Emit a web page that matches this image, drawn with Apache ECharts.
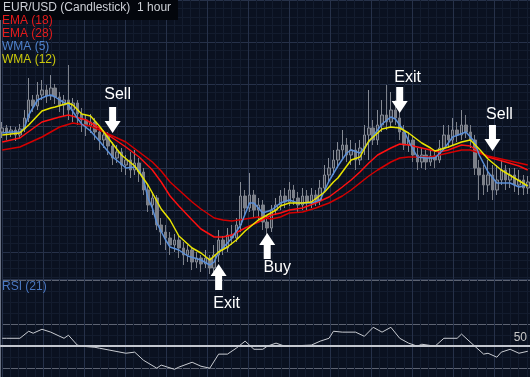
<!DOCTYPE html>
<html><head><meta charset="utf-8">
<script src="https://cdn.jsdelivr.net/npm/echarts@6/dist/echarts.min.js"></script>
<style>html,body{margin:0;padding:0;background:#0a1120;}#c{width:530px;height:377px;}</style>
</head><body><div id="c"></div>
<script>
// ---- data (EUR/USD hourly; [open, close, low, high]) ----
const bars = [
[1.4168,1.4172,1.4162,1.4178],[1.4172,1.4167,1.4160,1.4175],[1.4167,1.4170,1.4163,1.4174],[1.4170,1.4165,1.4159,1.4173],
[1.4165,1.4171,1.4162,1.4176],[1.4171,1.4182,1.4168,1.4190],[1.4182,1.4200,1.4178,1.4222],[1.4200,1.4194,1.4188,1.4205],
[1.4194,1.4205,1.4190,1.4218],[1.4205,1.4210,1.4200,1.4220],[1.4210,1.4204,1.4197,1.4215],[1.4204,1.4212,1.4200,1.4225],
[1.4212,1.4203,1.4196,1.4216],[1.4203,1.4195,1.4188,1.4208],[1.4195,1.4200,1.4184,1.4205],[1.4200,1.4190,1.4180,1.4235],
[1.4190,1.4197,1.4178,1.4202],[1.4197,1.4186,1.4175,1.4200],[1.4186,1.4180,1.4168,1.4192],[1.4180,1.4174,1.4164,1.4185],
[1.4174,1.4178,1.4167,1.4186],[1.4178,1.4168,1.4160,1.4182],[1.4168,1.4160,1.4150,1.4172],[1.4160,1.4165,1.4152,1.4170],
[1.4165,1.4154,1.4145,1.4168],[1.4154,1.4142,1.4135,1.4158],[1.4142,1.4148,1.4137,1.4155],[1.4148,1.4135,1.4128,1.4152],
[1.4135,1.4140,1.4125,1.4145],[1.4140,1.4130,1.4122,1.4148],[1.4130,1.4137,1.4125,1.4150],[1.4137,1.4128,1.4118,1.4142],
[1.4128,1.4110,1.4105,1.4132],[1.4110,1.4095,1.4088,1.4115],[1.4095,1.4102,1.4085,1.4108],[1.4102,1.4075,1.4070,1.4105],
[1.4075,1.4068,1.4055,1.4082],[1.4068,1.4062,1.4050,1.4075],[1.4062,1.4055,1.4045,1.4068],[1.4055,1.4060,1.4048,1.4066],
[1.4060,1.4052,1.4042,1.4065],[1.4052,1.4045,1.4035,1.4058],[1.4045,1.4050,1.4038,1.4055],[1.4050,1.4038,1.4030,1.4052],
[1.4038,1.4042,1.4032,1.4048],[1.4042,1.4036,1.4028,1.4045],[1.4036,1.4042,1.4032,1.4050],[1.4042,1.4032,1.4026,1.4045],
[1.4032,1.4045,1.4028,1.4055],[1.4045,1.4060,1.4038,1.4070],[1.4060,1.4052,1.4045,1.4064],[1.4052,1.4065,1.4048,1.4072],
[1.4065,1.4062,1.4055,1.4075],[1.4062,1.4075,1.4058,1.4082],[1.4075,1.4104,1.4068,1.4118],[1.4104,1.4092,1.4085,1.4110],
[1.4092,1.4105,1.4088,1.4127],[1.4105,1.4090,1.4082,1.4110],[1.4090,1.4095,1.4080,1.4102],[1.4095,1.4078,1.4070,1.4100],
[1.4078,1.4072,1.4064,1.4085],[1.4072,1.4090,1.4068,1.4095],[1.4090,1.4095,1.4085,1.4102],[1.4095,1.4104,1.4090,1.4110],
[1.4104,1.4098,1.4092,1.4112],[1.4098,1.4110,1.4094,1.4118],[1.4110,1.4102,1.4095,1.4115],[1.4102,1.4095,1.4088,1.4108],
[1.4095,1.4104,1.4090,1.4112],[1.4104,1.4098,1.4090,1.4110],[1.4098,1.4105,1.4092,1.4112],[1.4105,1.4100,1.4094,1.4110],
[1.4100,1.4112,1.4095,1.4120],[1.4112,1.4125,1.4108,1.4135],[1.4125,1.4132,1.4118,1.4142],[1.4132,1.4140,1.4125,1.4150],
[1.4140,1.4150,1.4132,1.4158],[1.4150,1.4155,1.4140,1.4170],[1.4155,1.4145,1.4138,1.4162],[1.4145,1.4150,1.4135,1.4160],
[1.4150,1.4140,1.4130,1.4157],[1.4140,1.4152,1.4135,1.4160],[1.4152,1.4165,1.4145,1.4175],[1.4165,1.4172,1.4140,1.4210],
[1.4172,1.4160,1.4155,1.4180],[1.4160,1.4175,1.4155,1.4190],[1.4175,1.4185,1.4168,1.4200],[1.4185,1.4178,1.4170,1.4215],
[1.4178,1.4190,1.4172,1.4208],[1.4190,1.4182,1.4175,1.4200],[1.4182,1.4168,1.4160,1.4188],[1.4168,1.4155,1.4150,1.4175],
[1.4155,1.4160,1.4148,1.4168],[1.4160,1.4145,1.4138,1.4165],[1.4145,1.4138,1.4130,1.4152],[1.4138,1.4145,1.4132,1.4152],
[1.4145,1.4138,1.4130,1.4150],[1.4138,1.4144,1.4134,1.4150],[1.4144,1.4140,1.4132,1.4150],[1.4140,1.4152,1.4137,1.4160],
[1.4152,1.4165,1.4150,1.4175],[1.4165,1.4160,1.4152,1.4175],[1.4160,1.4170,1.4155,1.4182],[1.4170,1.4165,1.4158,1.4178],
[1.4165,1.4175,1.4160,1.4190],[1.4175,1.4168,1.4162,1.4185],[1.4168,1.4160,1.4152,1.4175],[1.4160,1.4132,1.4125,1.4165],
[1.4132,1.4125,1.4100,1.4140],[1.4125,1.4115,1.4105,1.4135],[1.4115,1.4125,1.4108,1.4140],[1.4125,1.4110,1.4100,1.4135],
[1.4110,1.4120,1.4105,1.4135],[1.4120,1.4130,1.4115,1.4140],[1.4130,1.4120,1.4110,1.4135],[1.4120,1.4125,1.4112,1.4132],
[1.4125,1.4115,1.4108,1.4132],[1.4115,1.4120,1.4105,1.4130],[1.4120,1.4112,1.4105,1.4125],[1.4112,1.4118,1.4106,1.4124]
];
const hours = bars.map((b, i) => 'H' + i);

// moving averages: [bar index, value]
const ema18 = [[0,1.4158],[4,1.4162],[9,1.4178],[13,1.4183],[15,1.4185],[19,1.4180],[22,1.4172],[24,1.4165],[28,1.4153],[31,1.4143],[34,1.4130],[36,1.4118],[38,1.4104],[40,1.4094],[43,1.4080],[45,1.4071],[48,1.4063],[50,1.4063],[52,1.4065],[55,1.4072],[58,1.4078],[61,1.4085],[63,1.4087],[65,1.4090],[68,1.4092],[71,1.4097],[74,1.4103],[77,1.4113],[79,1.4120],[81,1.4128],[83,1.4137],[85,1.4145],[88,1.4152],[90,1.4156],[92,1.4155],[95,1.4152],[97,1.4150],[99,1.4148],[101,1.4150],[104,1.4155],[106,1.4154],[108,1.4148],[110,1.4143],[114,1.4138],[117,1.4134],[119,1.4130]];
const ema28 = [[0,1.4150],[4,1.4153],[9,1.4163],[13,1.4173],[16,1.4177],[20,1.4174],[24,1.4166],[28,1.4158],[31,1.4148],[34,1.4138],[36,1.4129],[38,1.4118],[40,1.4110],[43,1.4098],[45,1.4091],[48,1.4082],[50,1.4080],[52,1.4079],[55,1.4081],[58,1.4083],[61,1.4081],[63,1.4083],[65,1.4087],[68,1.4088],[71,1.4092],[74,1.4097],[77,1.4104],[79,1.4110],[81,1.4117],[83,1.4124],[85,1.4130],[88,1.4138],[90,1.4142],[92,1.4143],[95,1.4143],[97,1.4143],[99,1.4145],[101,1.4147],[104,1.4150],[106,1.4150],[108,1.4147],[110,1.4144],[114,1.4140],[117,1.4137],[119,1.4135]];
const wma5 = [[0,1.4167],[2,1.4168],[4,1.4168],[5,1.4172],[6,1.4185],[8,1.4200],[10,1.4204],[11,1.4205],[12,1.4203],[13,1.4200],[15,1.4195],[17,1.4182],[18,1.4176],[20,1.4169],[22,1.4159],[25,1.4143],[27,1.4136],[28,1.4132],[30,1.4133],[31,1.4130],[32,1.4120],[33,1.4102],[34,1.4092],[35,1.4077],[37,1.4060],[38,1.4053],[40,1.4050],[42,1.4044],[45,1.4040],[47,1.4035],[48,1.4038],[49,1.4048],[51,1.4057],[52,1.4062],[54,1.4075],[56,1.4097],[57,1.4097],[59,1.4087],[61,1.4090],[63,1.4097],[65,1.4100],[67,1.4097],[70,1.4097],[72,1.4100],[74,1.4119],[76,1.4134],[78,1.4147],[79,1.4150],[81,1.4147],[83,1.4158],[85,1.4170],[86,1.4176],[88,1.4183],[89,1.4181],[91,1.4169],[92,1.4159],[94,1.4143],[96,1.4142],[98,1.4142],[100,1.4151],[102,1.4163],[105,1.4168],[107,1.4158],[108,1.4145],[110,1.4128],[112,1.4117],[115,1.4117],[117,1.4113],[119,1.4115]];
const wma12 = [[0,1.4165],[4,1.4167],[6,1.4175],[9,1.4189],[11,1.4192],[12,1.4193],[15,1.4197],[16,1.4195],[18,1.4186],[20,1.4184],[22,1.4174],[24,1.4162],[27,1.4145],[30,1.4134],[33,1.4115],[36,1.4091],[38,1.4080],[40,1.4064],[43,1.4052],[45,1.4047],[47,1.4040],[49,1.4048],[51,1.4053],[53,1.4060],[55,1.4069],[58,1.4080],[60,1.4085],[62,1.4090],[63,1.4094],[65,1.4097],[68,1.4097],[70,1.4098],[73,1.4108],[75,1.4118],[76,1.4122],[79,1.4140],[81,1.4143],[83,1.4159],[86,1.4171],[88,1.4173],[90,1.4172],[92,1.4167],[95,1.4157],[97,1.4152],[98,1.4149],[101,1.4153],[104,1.4158],[106,1.4160],[108,1.4151],[110,1.4141],[113,1.4130],[116,1.4122],[119,1.4114]];
const rsi21 = [[0,53.6],[1,53.6],[4,53.6],[6,56.8],[7,55.9],[9,57.7],[11,56.4],[14,53.6],[15,55.0],[17,50.5],[18,50.0],[21,49.5],[22,49.1],[28,46.8],[30,47.3],[32,43.6],[35,40.0],[36,41.4],[39,39.5],[40,40.5],[43,42.7],[45,40.9],[47,40.0],[49,46.4],[51,46.4],[53,49.1],[55,52.3],[57,48.6],[59,48.6],[60,50.0],[62,51.4],[64,50.0],[70,50.5],[72,52.3],[74,53.6],[75,56.8],[77,56.4],[80,56.4],[82,54.5],[84,58.6],[86,56.4],[88,58.6],[90,53.6],[92,51.4],[94,50.0],[95,50.9],[98,50.0],[100,53.6],[103,53.6],[104,55.5],[107,50.0],[109,46.4],[110,46.8],[112,45.0],[113,47.3],[115,48.6],[117,46.8],[119,47.7]];

// trade signals: text, bar index, price at arrow centre, direction
const signalText  = ['Sell', 'Exit', 'Buy', 'Exit', 'Sell'];
const signalIndex = [25, 49, 60, 90, 111];
const signalPrice = [1.4180, 1.4023, 1.4054, 1.4200, 1.4162];
const signalDir   = ['down', 'up', 'up', 'down', 'down'];

const legendNames = ['EMA (18)', 'EMA (28)', 'WMA (5)', 'WMA (12)'];
const rsiLevel = 50;

// ---- chart ----
const FONT = '"Liberation Sans", Arial, sans-serif';
const DOWN = 'path://M4.5,0L11.5,0L11.5,14L16,14L8,26L0,14L4.5,14Z';
const UP = 'path://M8,0L16,12L11.5,12L11.5,26L4.5,26L4.5,12L0,12Z';
const labelOpt = [
  {pos:'top', dist:4, off:[5,0]},
  {pos:'bottom', dist:6, off:[8,0]},
  {pos:'bottom', dist:1, off:[10,0]},
  {pos:'top', dist:1, off:[8,0]},
  {pos:'top', dist:2, off:[7,0]}
];
const marks = signalText.map((t, k) => ({
  coord: [signalIndex[k], signalPrice[k]],
  symbol: signalDir[k] === 'down' ? DOWN : UP,
  symbolSize: [16, 26],
  itemStyle: {color: '#ffffff'},
  label: {show: true, formatter: t, position: labelOpt[k].pos, distance: labelOpt[k].dist,
          offset: labelOpt[k].off, color: '#ffffff', fontSize: 16, fontFamily: FONT}
}));

const hidden = {axisLine:{show:false}, axisTick:{show:false}, axisLabel:{show:false}};
const majorMain = '#263149', minorCol = '#131c2e';

const chart = echarts.init(document.getElementById('c'), null, {renderer: 'canvas'});
chart.setOption({
  backgroundColor: '#0a1120',
  animation: false,
  grid: [
    {left: 0, right: 0, top: 0, height: 279},            // price
    {left: 0, right: 0, top: 280, height: 97},           // RSI
    {left: 2, width: 528, top: -23.5, height: 302.5},    // bg grid main
    {left: 2, width: 528, top: 280, height: 97}          // bg grid RSI
  ],
  xAxis: [
    {type:'category', gridIndex:0, data:hours, boundaryGap:true, ...hidden, splitLine:{show:false}},
    {type:'category', gridIndex:1, data:hours, boundaryGap:true, ...hidden, splitLine:{show:false}},
    {type:'value', gridIndex:2, min:0, max:528, interval:41, ...hidden,
      splitLine:{show:true, lineStyle:{color:majorMain, width:1}},
      minorTick:{show:false, splitNumber:5}, minorSplitLine:{show:true, lineStyle:{color:minorCol, width:1}}},
    {type:'value', gridIndex:3, min:0, max:528, interval:41, ...hidden,
      splitLine:{show:true, lineStyle:{color:majorMain, width:1}},
      minorTick:{show:false, splitNumber:5}, minorSplitLine:{show:true, lineStyle:{color:minorCol, width:1}}}
  ],
  yAxis: [
    {type:'value', gridIndex:0, min:1.4021, max:1.4300, scale:true, axisTick:{show:false}, axisLabel:{show:false},
      axisLine:{show:true, lineStyle:{color:'#687082', width:2}}, splitLine:{show:false}},
    {type:'value', gridIndex:1, min:36, max:80.1, axisTick:{show:false}, axisLabel:{show:false},
      axisLine:{show:true, lineStyle:{color:'#687082', width:2}}, splitLine:{show:false}},
    {type:'value', gridIndex:2, inverse:true, min:0, max:302.5, interval:45.5, ...hidden,
      splitLine:{show:true, lineStyle:{color:majorMain, width:1}},
      minorTick:{show:false, splitNumber:5}, minorSplitLine:{show:true, lineStyle:{color:minorCol, width:1}}},
    {type:'value', gridIndex:3, inverse:true, min:0, max:97, interval:44, ...hidden,
      splitLine:{show:true, lineStyle:{color:'#5d6372', width:1}},
      minorTick:{show:false, splitNumber:4}, minorSplitLine:{show:true, lineStyle:{color:minorCol, width:1}}}
  ],
  series: [
    {type:'line', xAxisIndex:2, yAxisIndex:2, data:[], silent:true},
    {type:'line', xAxisIndex:3, yAxisIndex:3, data:[], silent:true},
    {type:'candlestick', xAxisIndex:0, yAxisIndex:0, data:bars, barWidth:3, z:3,
      itemStyle:{color:'#2f3440', color0:'#7c8089', borderColor:'#858a94', borderColor0:'#7c8089', borderWidth:1},
      markPoint:{data:marks, z:10, animation:false}},
    {type:'line', name:legendNames[0], xAxisIndex:0, yAxisIndex:0, data:ema18, symbol:'none', z:4,
      lineStyle:{color:'#ff1010', width:1.5}},
    {type:'line', name:legendNames[1], xAxisIndex:0, yAxisIndex:0, data:ema28, symbol:'none', z:4,
      lineStyle:{color:'#d40000', width:1.5}},
    {type:'line', name:legendNames[2], xAxisIndex:0, yAxisIndex:0, data:wma5, symbol:'none', z:5,
      lineStyle:{color:'#5b8fd8', width:1.5}},
    {type:'line', name:legendNames[3], xAxisIndex:0, yAxisIndex:0, data:wma12, symbol:'none', z:5,
      lineStyle:{color:'#e8e400', width:1.5}},
    {type:'line', name:'RSI (21)', xAxisIndex:1, yAxisIndex:1, data:rsi21, symbol:'none', z:5,
      lineStyle:{color:'#c8cbd1', width:1},
      markLine:{silent:true, symbol:'none', animation:false,
        lineStyle:{color:'#c3c7cf', width:2, type:'solid'},
        label:{show:true, position:'insideEndTop', formatter:'{c}', color:'#c8c8c8', fontSize:12, fontFamily:FONT, distance:[3,3]},
        data:[{yAxis:rsiLevel}]}}
  ],
  graphic: [
    {type:'rect', left:0, top:0, z:100, shape:{width:178, height:20}, style:{fill:'#03060c'}},
    {type:'text', left:3, top:2, z:101, style:{text:'EUR/USD (Candlestick)  1 hour', fill:'#cdd0d6', font:'12px ' + FONT}},
    {type:'text', left:2, top:15, z:101, style:{text:legendNames[0], fill:'#e41b1b', font:'12px ' + FONT}},
    {type:'text', left:2, top:28, z:101, style:{text:legendNames[1], fill:'#e41b1b', font:'12px ' + FONT}},
    {type:'text', left:2, top:41, z:101, style:{text:legendNames[2], fill:'#4f82cc', font:'12px ' + FONT}},
    {type:'text', left:2, top:54, z:101, style:{text:legendNames[3], fill:'#cbc90c', font:'12px ' + FONT}},
    {type:'text', left:2, top:281, z:101, style:{text:'RSI (21)', fill:'#4a77c0', font:'12px ' + FONT}}
  ]
});
</script>
</body></html>
